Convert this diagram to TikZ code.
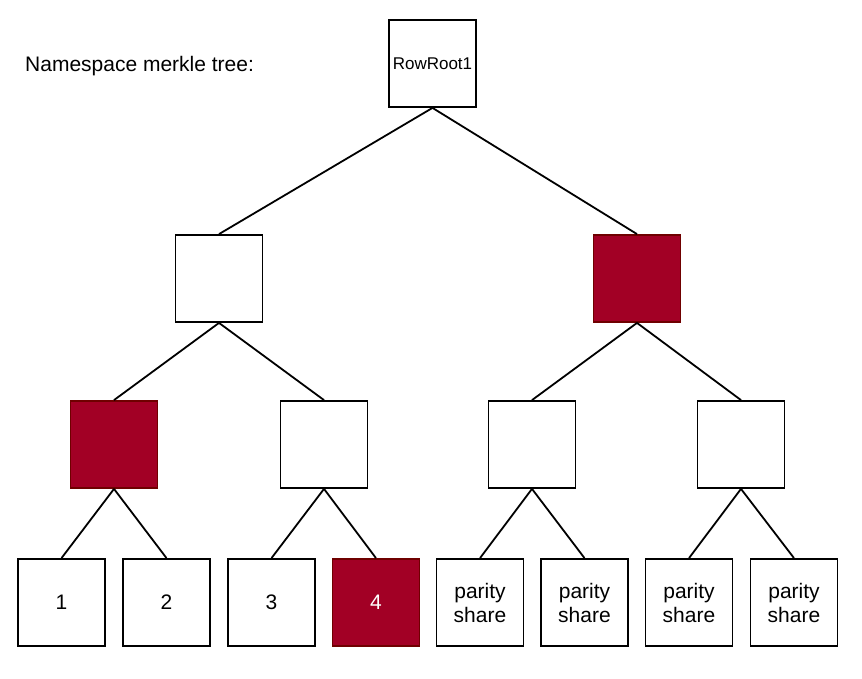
\documentclass[tikz,border=0pt]{standalone}
\usepackage{fontspec}
\setmainfont{Liberation Sans}
\definecolor{nred}{HTML}{A20025}
\definecolor{nredb}{HTML}{6F0000}
\begin{document}
\begin{tikzpicture}[x=1pt,y=1pt,
  box/.style={draw=black,line width=1.8,minimum size=87,inner sep=0,align=center,font=\fontsize{21}{24}\selectfont},
  redbox/.style={box,fill=nred,draw=nredb,text=white},
  edge/.style={line width=1.8}]
\useasboundingbox (0,0) rectangle (862,-679);
\node[anchor=west,font=\fontsize{21}{24}\selectfont,inner sep=0] (title) at (25,-66) {Namespace merkle tree:};
\node[box,font=\fontsize{17}{20}\selectfont] (root) at (432.5,-63.5) {RowRoot1};
\node[box] (a) at (219,-278.5) {};
\node[redbox] (b) at (637,-278.5) {};
\node[redbox] (c1) at (114,-444.5) {};
\node[box] (c2) at (324,-444.5) {};
\node[box] (c3) at (532,-444.5) {};
\node[box] (c4) at (741,-444.5) {};
\node[box] (l1) at (61.5,-602.5) {1};
\node[box] (l2) at (166.5,-602.5) {2};
\node[box] (l3) at (271.5,-602.5) {3};
\node[redbox] (l4) at (376,-602.5) {4};
\node[box] (l5) at (480,-602.5) {parity\\share};
\node[box] (l6) at (584.5,-602.5) {parity\\share};
\node[box] (l7) at (689,-602.5) {parity\\share};
\node[box] (l8) at (794,-602.5) {parity\\share};
\draw[edge] (root.south) -- (a.north);
\draw[edge] (root.south) -- (b.north);
\draw[edge] (a.south) -- (c1.north);
\draw[edge] (a.south) -- (c2.north);
\draw[edge] (b.south) -- (c3.north);
\draw[edge] (b.south) -- (c4.north);
\draw[edge] (c1.south) -- (l1.north);
\draw[edge] (c1.south) -- (l2.north);
\draw[edge] (c2.south) -- (l3.north);
\draw[edge] (c2.south) -- (l4.north);
\draw[edge] (c3.south) -- (l5.north);
\draw[edge] (c3.south) -- (l6.north);
\draw[edge] (c4.south) -- (l7.north);
\draw[edge] (c4.south) -- (l8.north);
\end{tikzpicture}
\end{document}
